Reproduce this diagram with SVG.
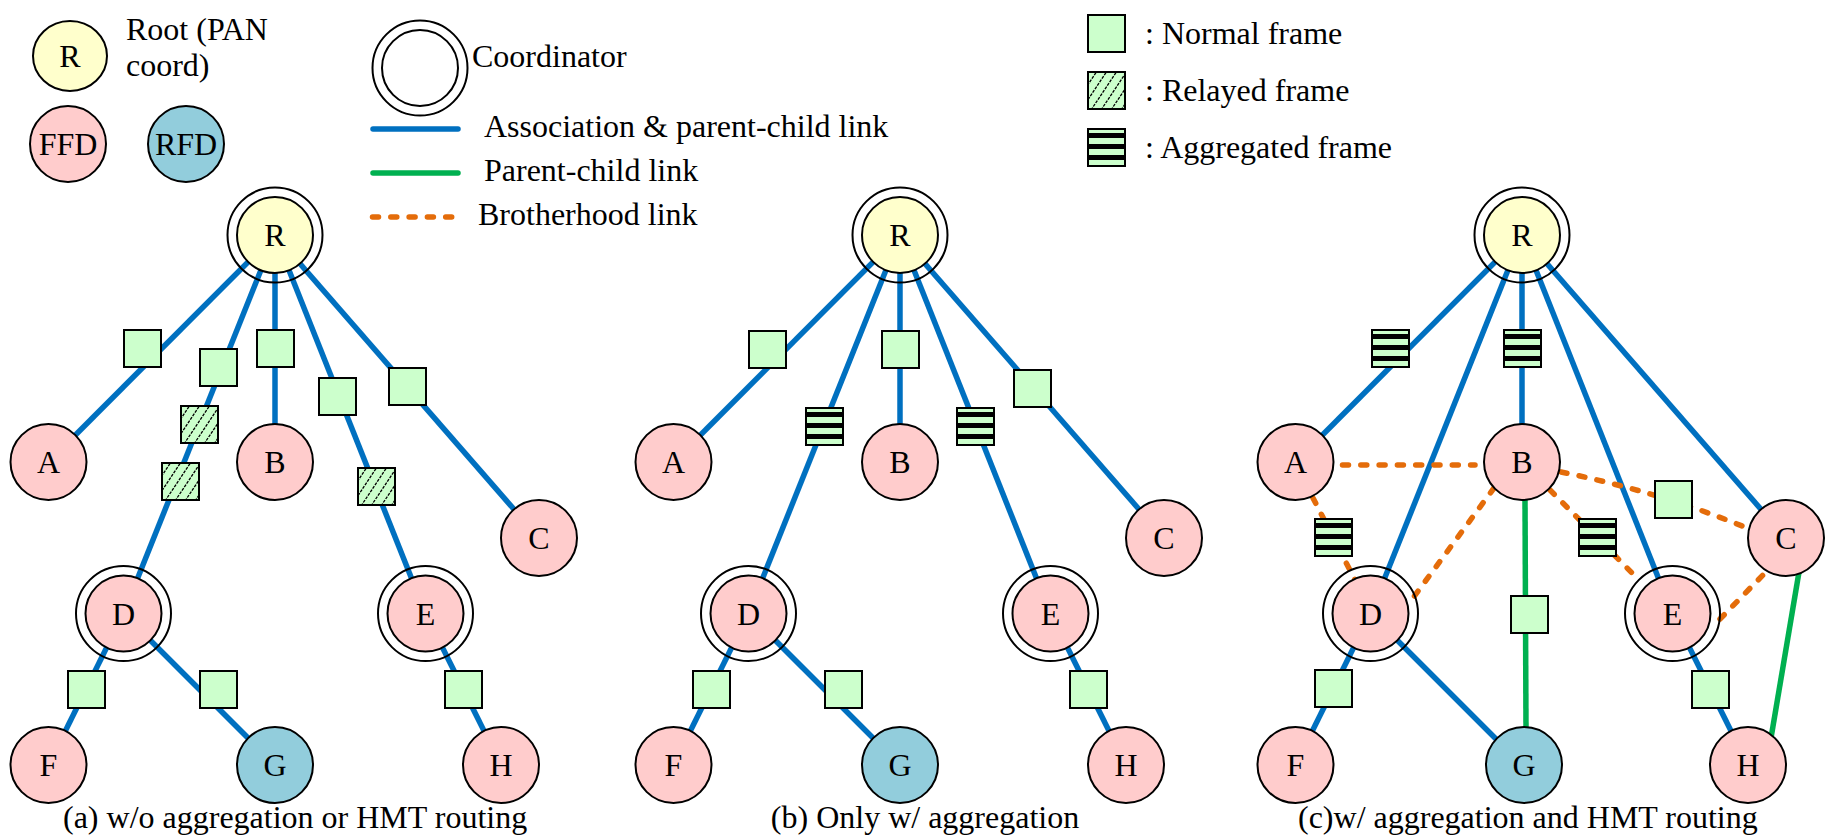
<svg xmlns="http://www.w3.org/2000/svg" width="1831" height="839" viewBox="0 0 1831 839">
  <style>
    text { font-family: "Liberation Serif", "Times New Roman", serif; font-size: 32px; fill: #000; }
    .lbl { text-anchor: middle; }
    .ring { fill: none; stroke: #000; stroke-width: 2; }
    .root { fill: #FFFFCC; stroke: #000; stroke-width: 2; }
    .ffd { fill: #FFCCCC; stroke: #000; stroke-width: 2; }
    .rfd { fill: #92CDDC; stroke: #000; stroke-width: 2; }
    .assoc { fill: none; stroke: #0070C0; stroke-width: 5.5; }
    .pc { fill: none; stroke: #00B050; stroke-width: 5.5; }
    .bro { fill: none; stroke: #E46C0A; stroke-width: 5.5; stroke-linecap: round; stroke-dasharray: 6 12.3; }
    .key { stroke-linecap: round; }
  </style>
  <defs>
    <!-- frame glyphs, 39 x 39 -->
    <symbol id="f-normal" viewBox="0 0 39 39">
      <rect x="1" y="1" width="37" height="37" fill="#CCFFCC" stroke="#000" stroke-width="2"/>
    </symbol>
    <symbol id="f-relayed" viewBox="0 0 39 39">
      <rect x="1" y="1" width="37" height="37" fill="#CCFFCC"/>
      <path d="M-16 39 L10 0 M-6 39 L20 0 M4 39 L30 0 M14 39 L40 0 M24 39 L50 0 M34 39 L60 0" stroke="#000" stroke-width="1.3" stroke-dasharray="3 1.2" fill="none"/>
      <rect x="1" y="1" width="37" height="37" fill="none" stroke="#000" stroke-width="2"/>
    </symbol>
    <symbol id="f-aggr" viewBox="0 0 39 39">
      <rect x="1" y="1" width="37" height="37" fill="#CCFFCC" stroke="#000" stroke-width="2"/>
      <rect x="0" y="5" width="39" height="5" fill="#000"/>
      <rect x="0" y="16" width="39" height="5" fill="#000"/>
      <rect x="0" y="27" width="39" height="5" fill="#000"/>
    </symbol>
  </defs>

  <rect width="1831" height="839" fill="#fff"/>

  <!-- ===== legend ===== -->
  <g id="legend">
    <g id="key-root">
      <ellipse class="root" cx="70" cy="56" rx="37" ry="35"/>
      <text class="lbl" x="70" y="67">R</text>
    </g>
    <text x="126" y="40">Root (PAN</text>
    <text x="126" y="76">coord)</text>
    <g id="key-ffd">
      <circle class="ffd" cx="68" cy="144" r="38"/>
      <text class="lbl" x="68" y="155">FFD</text>
    </g>
    <g id="key-rfd">
      <circle class="rfd" cx="186" cy="144" r="38"/>
      <text class="lbl" x="186" y="155">RFD</text>
    </g>
    <g id="key-coord">
      <circle class="ring" cx="420" cy="68" r="47.5"/>
      <circle class="ring" cx="420" cy="68" r="38"/>
    </g>
    <text x="472" y="67">Coordinator</text>
    <path class="assoc key" d="M373 129 H458"/>
    <text x="484" y="137">Association &amp; parent-child link</text>
    <path class="pc key" d="M373 173 H458"/>
    <text x="484" y="181">Parent-child link</text>
    <path class="bro" d="M372.5 217 H452"/>
    <text x="478" y="225">Brotherhood link</text>

    <use href="#f-normal" x="1087" y="14" width="39" height="39"/>
    <text x="1145" y="44">: Normal frame</text>
    <use href="#f-relayed" x="1087" y="71" width="39" height="39"/>
    <text x="1145" y="101">: Relayed frame</text>
    <use href="#f-aggr" x="1087" y="128" width="39" height="39"/>
    <text x="1145" y="158">: Aggregated frame</text>
  </g>

  <!-- ===== (a) without aggregation or HMT routing ===== -->
  <g id="panel-a">
    <g id="a-links">
      <path class="assoc" d="M275 235 L48.5 462"/>
      <path class="assoc" d="M275 235 L123.5 613.5"/>
      <path class="assoc" d="M275 235 L275 462"/>
      <path class="assoc" d="M275 235 L425.5 613.5"/>
      <path class="assoc" d="M275 235 L539 538"/>
      <path class="assoc" d="M123.5 613.5 L48.5 765"/>
      <path class="assoc" d="M123.5 613.5 L275 765"/>
      <path class="assoc" d="M425.5 613.5 L501 765"/>
    </g>
    <g id="a-frames">
      <use href="#f-normal" x="123" y="329" width="39" height="39"/>
      <use href="#f-normal" x="199" y="348" width="39" height="39"/>
      <use href="#f-normal" x="256" y="329" width="39" height="39"/>
      <use href="#f-normal" x="318" y="377" width="39" height="39"/>
      <use href="#f-normal" x="388" y="367" width="39" height="39"/>
      <use href="#f-relayed" x="180" y="405" width="39" height="39"/>
      <use href="#f-relayed" x="161" y="462" width="39" height="39"/>
      <use href="#f-relayed" x="357" y="467" width="39" height="39"/>
      <use href="#f-normal" x="67" y="670" width="39" height="39"/>
      <use href="#f-normal" x="199" y="670" width="39" height="39"/>
      <use href="#f-normal" x="444" y="670" width="39" height="39"/>
    </g>
    <g id="a-R"><circle class="ring" cx="275" cy="235" r="47.5"/><circle class="root" cx="275" cy="235" r="38"/><text class="lbl" x="275" y="246">R</text></g>
    <g id="a-A"><circle class="ffd" cx="48.5" cy="462" r="38"/><text class="lbl" x="48.5" y="473">A</text></g>
    <g id="a-B"><circle class="ffd" cx="275" cy="462" r="38"/><text class="lbl" x="275" y="473">B</text></g>
    <g id="a-C"><circle class="ffd" cx="539" cy="538" r="38"/><text class="lbl" x="539" y="549">C</text></g>
    <g id="a-D"><circle class="ring" cx="123.5" cy="613.5" r="47.5"/><circle class="ffd" cx="123.5" cy="613.5" r="38"/><text class="lbl" x="123.5" y="625">D</text></g>
    <g id="a-E"><circle class="ring" cx="425.5" cy="613.5" r="47.5"/><circle class="ffd" cx="425.5" cy="613.5" r="38"/><text class="lbl" x="425.5" y="625">E</text></g>
    <g id="a-F"><circle class="ffd" cx="48.5" cy="765" r="38"/><text class="lbl" x="48.5" y="776">F</text></g>
    <g id="a-G"><circle class="rfd" cx="275" cy="765" r="38"/><text class="lbl" x="275" y="776">G</text></g>
    <g id="a-H"><circle class="ffd" cx="501" cy="765" r="38"/><text class="lbl" x="501" y="776">H</text></g>
    <text x="63" y="828">(a) w/o aggregation or HMT routing</text>
  </g>

  <!-- ===== (b) aggregation only ===== -->
  <g id="panel-b">
    <g id="b-links" transform="translate(625 0)">
      <path class="assoc" d="M275 235 L48.5 462"/>
      <path class="assoc" d="M275 235 L123.5 613.5"/>
      <path class="assoc" d="M275 235 L275 462"/>
      <path class="assoc" d="M275 235 L425.5 613.5"/>
      <path class="assoc" d="M275 235 L539 538"/>
      <path class="assoc" d="M123.5 613.5 L48.5 765"/>
      <path class="assoc" d="M123.5 613.5 L275 765"/>
      <path class="assoc" d="M425.5 613.5 L501 765"/>
    </g>
    <g id="b-frames" transform="translate(625 0)">
      <use href="#f-normal" x="123" y="330" width="39" height="39"/>
      <use href="#f-normal" x="256" y="330" width="39" height="39"/>
      <use href="#f-normal" x="388" y="369" width="39" height="39"/>
      <use href="#f-aggr" x="180" y="407" width="39" height="39"/>
      <use href="#f-aggr" x="331" y="407" width="39" height="39"/>
      <use href="#f-normal" x="67" y="670" width="39" height="39"/>
      <use href="#f-normal" x="199" y="670" width="39" height="39"/>
      <use href="#f-normal" x="444" y="670" width="39" height="39"/>
    </g>
    <g id="b-nodes" transform="translate(625 0)">
      <g id="b-R"><circle class="ring" cx="275" cy="235" r="47.5"/><circle class="root" cx="275" cy="235" r="38"/><text class="lbl" x="275" y="246">R</text></g>
      <g id="b-A"><circle class="ffd" cx="48.5" cy="462" r="38"/><text class="lbl" x="48.5" y="473">A</text></g>
      <g id="b-B"><circle class="ffd" cx="275" cy="462" r="38"/><text class="lbl" x="275" y="473">B</text></g>
      <g id="b-C"><circle class="ffd" cx="539" cy="538" r="38"/><text class="lbl" x="539" y="549">C</text></g>
      <g id="b-D"><circle class="ring" cx="123.5" cy="613.5" r="47.5"/><circle class="ffd" cx="123.5" cy="613.5" r="38"/><text class="lbl" x="123.5" y="625">D</text></g>
      <g id="b-E"><circle class="ring" cx="425.5" cy="613.5" r="47.5"/><circle class="ffd" cx="425.5" cy="613.5" r="38"/><text class="lbl" x="425.5" y="625">E</text></g>
      <g id="b-F"><circle class="ffd" cx="48.5" cy="765" r="38"/><text class="lbl" x="48.5" y="776">F</text></g>
      <g id="b-G"><circle class="rfd" cx="275" cy="765" r="38"/><text class="lbl" x="275" y="776">G</text></g>
      <g id="b-H"><circle class="ffd" cx="501" cy="765" r="38"/><text class="lbl" x="501" y="776">H</text></g>
    </g>
    <text class="lbl" x="925" y="828">(b) Only w/ aggregation</text>
  </g>

  <!-- ===== (c) aggregation and HMT routing ===== -->
  <g id="panel-c">
    <g id="c-links" transform="translate(1247 0)">
      <path class="assoc" d="M275 235 L48.5 462"/>
      <path class="assoc" d="M275 235 L123.5 613.5"/>
      <path class="assoc" d="M275 235 L275 462"/>
      <path class="assoc" d="M275 235 L425.5 613.5"/>
      <path class="assoc" d="M275 235 L539 538"/>
      <path class="assoc" d="M123.5 613.5 L48.5 765"/>
      <path class="assoc" d="M123.5 613.5 L275 765"/>
      <path class="assoc" d="M425.5 613.5 L501 765"/>
      <path class="pc" d="M278 500 L279 727"/>
      <path class="pc" d="M552 572 L524 738"/>
      <path class="bro" d="M95.5 465 H228"/>
      <path class="bro" d="M66 498 L108 580"/>
      <path class="bro" d="M247 488 L166 598"/>
      <path class="bro" d="M303 490 L393 581"/>
      <path class="bro" d="M314 472 Q413 492 500 528"/>
      <path class="bro" d="M473 619 L516 575"/>
    </g>
    <g id="c-frames" transform="translate(1247 0)">
      <use href="#f-aggr" x="124" y="329" width="39" height="39"/>
      <use href="#f-aggr" x="256" y="329" width="39" height="39"/>
      <use href="#f-aggr" x="67" y="518" width="39" height="39"/>
      <use href="#f-aggr" x="331" y="518" width="39" height="39"/>
      <use href="#f-normal" x="407" y="480" width="39" height="39"/>
      <use href="#f-normal" x="263" y="595" width="39" height="39"/>
      <use href="#f-normal" x="67" y="669" width="39" height="39"/>
      <use href="#f-normal" x="444" y="670" width="39" height="39"/>
    </g>
    <g id="c-nodes" transform="translate(1247 0)">
      <g id="c-R"><circle class="ring" cx="275" cy="235" r="47.5"/><circle class="root" cx="275" cy="235" r="38"/><text class="lbl" x="275" y="246">R</text></g>
      <g id="c-A"><circle class="ffd" cx="48.5" cy="462" r="38"/><text class="lbl" x="48.5" y="473">A</text></g>
      <g id="c-B"><circle class="ffd" cx="275" cy="462" r="38"/><text class="lbl" x="275" y="473">B</text></g>
      <g id="c-C"><circle class="ffd" cx="539" cy="538" r="38"/><text class="lbl" x="539" y="549">C</text></g>
      <g id="c-D"><circle class="ring" cx="123.5" cy="613.5" r="47.5"/><circle class="ffd" cx="123.5" cy="613.5" r="38"/><text class="lbl" x="123.5" y="625">D</text></g>
      <g id="c-E"><circle class="ring" cx="425.5" cy="613.5" r="47.5"/><circle class="ffd" cx="425.5" cy="613.5" r="38"/><text class="lbl" x="425.5" y="625">E</text></g>
      <g id="c-F"><circle class="ffd" cx="48.5" cy="765" r="38"/><text class="lbl" x="48.5" y="776">F</text></g>
      <g id="c-G"><circle class="rfd" cx="277" cy="765" r="38"/><text class="lbl" x="277" y="776">G</text></g>
      <g id="c-H"><circle class="ffd" cx="501" cy="765" r="38"/><text class="lbl" x="501" y="776">H</text></g>
    </g>
    <text x="1298" y="828">(c)w/ aggregation and HMT routing</text>
  </g>
</svg>
